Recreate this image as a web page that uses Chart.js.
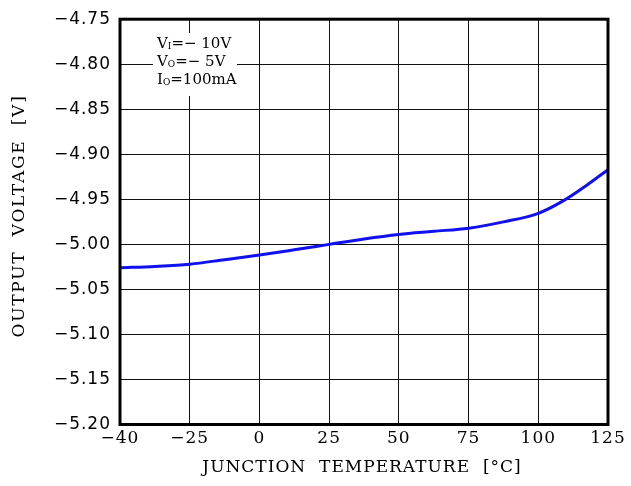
<!DOCTYPE html>
<html>
<head>
<meta charset="utf-8">
<script src="https://cdn.jsdelivr.net/npm/chart.js@4.4.1/dist/chart.umd.min.js"></script>
<style>
  html, body { margin: 0; padding: 0; background: #fff; }
  #wrap { width: 631px; height: 486px; }
</style>
</head>
<body>
<div id="wrap"><canvas id="myChart" width="631" height="486"></canvas></div>
<script>
// axis ticks (the x axis is evenly spaced per tick, not linear in temperature)
var tempTicks = [-40, -25, 0, 25, 50, 75, 100, 125];
var voltTicks = [-4.75, -4.80, -4.85, -4.90, -4.95, -5.00, -5.05, -5.10, -5.15, -5.20];

// curve
var temps = [-40, -32.5, -25, -12.5, 0, 12.5, 25, 37.5, 50, 62.5, 75, 87.5, 100, 108.75, 117.5, 125];
var volts = [-5.026, -5.0245, -5.022, -5.017, -5.0118, -5.006, -5.000, -4.994, -4.989, -4.9855, -4.982, -4.975, -4.9655, -4.952, -4.934, -4.917];

var notes = [['V', 'I', '=\u2212 10V'], ['V', 'O', '=\u2212 5V'], ['I', 'O', '=100mA']];

// temperature -> position on the evenly spaced axis
function tempToPos(t) {
    for (var i = 0; i < tempTicks.length - 1; i++) {
        if (t <= tempTicks[i + 1]) {
            return i + (t - tempTicks[i]) / (tempTicks[i + 1] - tempTicks[i]);
        }
    }
    return tempTicks.length - 1;
}

var points = [];
for (var i = 0; i < temps.length; i++) {
    points.push({x: tempToPos(temps[i]), y: volts[i]});
}

function minus(s) { return s.replace('-', '\u2212'); }

var framePlugin = {
    id: 'frame',
    beforeDraw: function (chart) {
        chart.ctx.letterSpacing = '1px';
    },
    beforeDatasetsDraw: function (chart) {
        var ctx = chart.ctx;
        // white box behind the conditions text
        ctx.save();
        ctx.fillStyle = '#fff';
        ctx.fillRect(153, 33, 84, 63);
        ctx.restore();
    },
    afterDraw: function (chart) {
        var ctx = chart.ctx, a = chart.chartArea;
        ctx.save();
        ctx.letterSpacing = '0px';
        ctx.strokeStyle = '#000';
        ctx.lineWidth = 3;
        ctx.strokeRect(a.left, a.top, a.right - a.left, a.bottom - a.top);

        // conditions
        ctx.fillStyle = '#000';
        ctx.textBaseline = 'alphabetic';
        var y0 = 48;
        for (var i = 0; i < notes.length; i++) {
            var x = 157, y = y0 + i * 18;
            ctx.font = '15px "DejaVu Serif"';
            ctx.fillText(notes[i][0], x, y);
            x += ctx.measureText(notes[i][0]).width;
            ctx.font = '9px "DejaVu Serif"';
            ctx.fillText(notes[i][1], x, y + 1);
            x += ctx.measureText(notes[i][1]).width;
            ctx.font = '15px "DejaVu Serif"';
            ctx.fillText(notes[i][2], x, y);
        }

        // axis titles
        ctx.font = '17px "DejaVu Serif"';
        ctx.letterSpacing = '1px';
        ctx.textAlign = 'center';
        ctx.textBaseline = 'middle';
        ctx.fillText('JUNCTION  TEMPERATURE  [\u00b0C]', 362, 468);
        ctx.letterSpacing = '1.75px';
        ctx.save();
        ctx.translate(20, 216);
        ctx.rotate(-Math.PI / 2);
        ctx.fillText('OUTPUT  VOLTAGE  [V]', 0, 0);
        ctx.restore();
        ctx.restore();
    }
};

new Chart('myChart', {
    type: 'scatter',
    data: {
        datasets: [{
            data: points,
            showLine: true,
            borderColor: '#1010f0',
            borderWidth: 3,
            pointRadius: 0,
            cubicInterpolationMode: 'monotone',
            fill: false
        }]
    },
    options: {
        responsive: false,
        animation: false,
        layout: {padding: {left: 0, right: 23, top: 15, bottom: 0}},
        plugins: {legend: {display: false}, tooltip: {enabled: false}},
        scales: {
            x: {
                type: 'linear',
                min: 0,
                max: tempTicks.length - 1,
                afterBuildTicks: function (scale) {
                    scale.ticks = tempTicks.map(function (t, i) { return {value: i}; });
                },
                afterFit: function (scale) { scale.height = 61.5; },
                border: {display: false},
                grid: {color: '#111', lineWidth: 1, drawTicks: false},
                ticks: {
                    color: '#000',
                    padding: 4,
                    maxRotation: 0,
                    font: {family: 'DejaVu Serif', size: 17},
                    callback: function (v) { return minus(String(tempTicks[v])); }
                }
            },
            y: {
                type: 'linear',
                min: -5.20,
                max: -4.75,
                afterBuildTicks: function (scale) {
                    scale.ticks = voltTicks.map(function (v) { return {value: v}; });
                },
                afterFit: function (scale) { scale.width = 120; },
                border: {display: false},
                grid: {color: '#111', lineWidth: 1, drawTicks: false},
                ticks: {
                    color: '#000',
                    padding: 9,
                    font: {family: 'DejaVu Sans', size: 17},
                    callback: function (v) { return minus(v.toFixed(2)); }
                }
            }
        }
    },
    plugins: [framePlugin]
});
</script>
</body>
</html>
